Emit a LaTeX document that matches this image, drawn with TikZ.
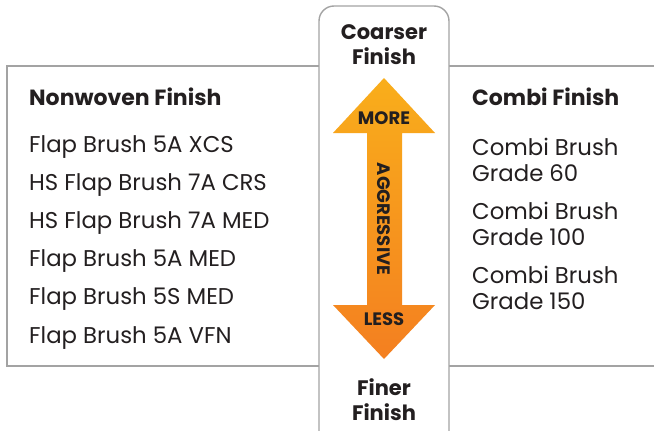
\documentclass[tikz,border=0pt]{standalone}
\usepackage{fontspec}
\setmainfont{Poppins}
\definecolor{framegray}{HTML}{A3A3A3}
\definecolor{inkdark}{HTML}{231F20}
\definecolor{arrowtop}{HTML}{F9AE1B}
\definecolor{arrowbot}{HTML}{F47F20}

\def\colx{384}

\begin{document}
\begin{tikzpicture}[x=1pt, y=-1pt,
  every node/.style={align=left, text=inkdark, inner sep=0pt},
  head/.style={font=\fontsize{22}{24}\selectfont\bfseries},
  item/.style={anchor=west, font=\fontsize{22.8}{26}\selectfont},
  pole/.style={align=center, font=\fontsize{21}{25}\selectfont\bfseries},
  tag/.style={font=\fontsize{18}{20}\selectfont\bfseries}]
\useasboundingbox (0, 0) rectangle (654, 431);
% frame
\draw[framegray, line width=1.4pt] (654, 66) -- (7, 66) -- (7, 366) -- (654, 366);
\draw[framegray, line width=1.4pt, fill=white, rounded corners=15pt] (319, 6) rectangle (449, 460);
% double arrow
\shade[top color=arrowtop, bottom color=arrowbot]
  (\colx, 78) -- (435, 133) -- (402, 133) -- (402, 305) -- (435, 305)
  -- (\colx, 359) -- (333, 305) -- (367, 305) -- (367, 133) -- (333, 133) -- cycle;
\node[tag] (more) at (\colx, 118) {MORE};
\node[tag] (less) at (\colx, 319) {LESS};
\node[tag, rotate=-90] (aggr) at (\colx, 219) {AGGRESSIVE};
\node[pole] (coarse) at (\colx, 45) {Coarser\\Finish};
\node[pole] (fine) at (\colx, 400) {Finer\\Finish};
% left column
\node[head, anchor=west] (nonwoven) at (29, 97) {Nonwoven Finish};
\node[item] (n1) at (29, 147) {Flap Brush 5A XCS};
\node[item] (n2) at (29, 185) {HS Flap Brush 7A CRS};
\node[item] (n3) at (29, 223) {HS Flap Brush 7A MED};
\node[item] (n4) at (29, 261) {Flap Brush 5A MED};
\node[item] (n5) at (29, 299) {Flap Brush 5S MED};
\node[item] (n6) at (29, 338) {Flap Brush 5A VFN};
% right column
\node[head, anchor=west] (combi) at (472, 97) {Combi Finish};
\node[item] (c1) at (472, 160) {Combi Brush\\Grade 60};
\node[item] (c2) at (472, 224) {Combi Brush\\Grade 100};
\node[item] (c3) at (472, 288) {Combi Brush\\Grade 150};
\end{tikzpicture}
\end{document}
